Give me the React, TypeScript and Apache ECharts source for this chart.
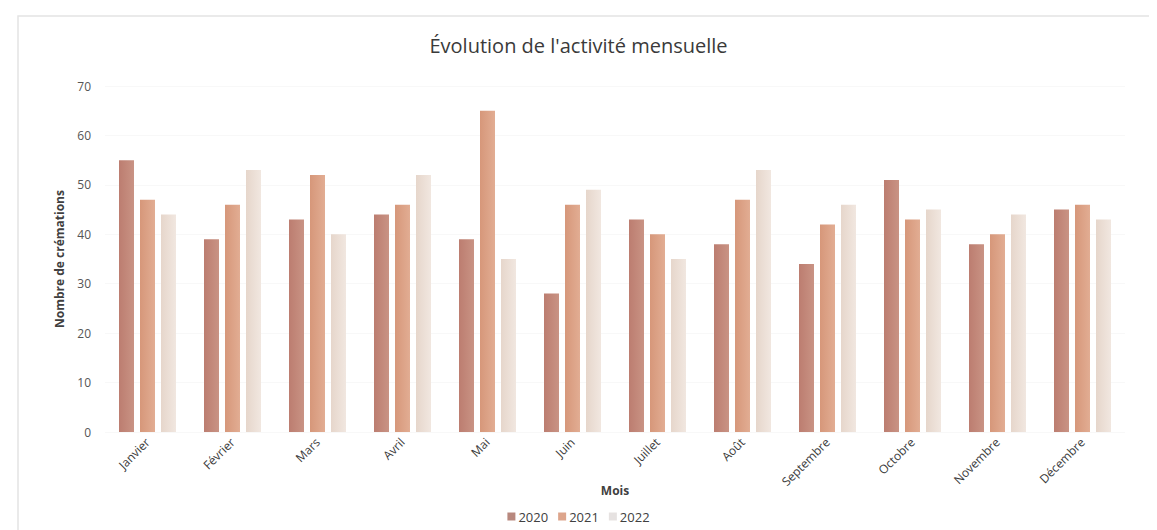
import React, { useEffect, useRef } from "react";
import * as echarts from "echarts";

const months = ["Janvier", "Février", "Mars", "Avril", "Mai", "Juin", "Juillet", "Août", "Septembre", "Octobre", "Novembre", "Décembre"];
const years = ["2020", "2021", "2022"];
const values2020 = [55, 39, 43, 44, 39, 28, 43, 38, 34, 51, 38, 45];
const values2021 = [47, 46, 52, 46, 65, 46, 40, 47, 42, 43, 40, 46];
const values2022 = [44, 53, 40, 52, 35, 49, 35, 53, 46, 45, 44, 43];
const yTicks = [0, 10, 20, 30, 40, 50, 60, 70];

const FONT = "'Open Sans', 'DejaVu Sans', sans-serif";

const grad = (a: string, b: string) =>
  new echarts.graphic.LinearGradient(0, 0, 1, 0, [
    { offset: 0, color: a },
    { offset: 1, color: b },
  ]);

export default function App() {
  const ref = useRef<HTMLDivElement>(null);
  useEffect(() => {
    if (!ref.current) return;
    const chart = echarts.init(ref.current, undefined, { renderer: "svg" });
    const colors = [
      ["#BC7D70", "#C99384"],
      ["#D6977A", "#E2AD93"],
      ["#E6D6CB", "#F1E7E0"],
    ];
    const legendColors = ["#B8887E", "#DDA58C", "#E6E2E1"];
    const data = [values2020, values2021, values2022];
    chart.setOption({
      animation: false,
      backgroundColor: "#ffffff",
      title: {
        text: "Évolution de l'activité mensuelle",
        left: "center",
        top: 30,
        textStyle: { fontFamily: FONT, fontSize: 20, fontWeight: "normal", color: "#3a3a3a" },
      },
      graphic: [
        {
          type: "rect",
          shape: { x: 10, y: 16, width: 1160, height: 530 },
          style: { fill: "none", stroke: "#e4e4e4", lineWidth: 1.5 },
          silent: true,
        },
      ],
      legend: {
        data: years.map((y, i) => ({ name: y, itemStyle: { color: legendColors[i] } })),
        bottom: 2,
        left: "center",
        icon: "rect",
        itemWidth: 8,
        itemHeight: 8,
        itemGap: 10,
        textStyle: { fontFamily: FONT, fontSize: 13, color: "#404040", padding: [0, 0, 0, -2] },
      },
      grid: { left: 97, right: 24, top: 86, bottom: 98, containLabel: false },
      xAxis: {
        type: "category",
        data: months,
        name: "Mois",
        nameLocation: "middle",
        nameGap: 52,
        nameMoveOverlap: false,
        nameTextStyle: { fontFamily: FONT, fontSize: 12, fontWeight: "bold", color: "#404040" },
        axisLine: { show: false },
        axisTick: { show: false },
        axisLabel: {
          rotate: 45,
          margin: 8,
          fontFamily: FONT,
          fontSize: 12,
          color: "#3a3a3a",
          interval: 0,
        },
      },
      yAxis: {
        type: "value",
        min: yTicks[0],
        max: yTicks[yTicks.length - 1],
        interval: 10,
        name: "Nombre de crémations",
        nameLocation: "middle",
        nameGap: 40,
        nameMoveOverlap: false,
        nameTextStyle: { fontFamily: FONT, fontSize: 12, fontWeight: "bold", color: "#404040" },
        axisLine: { show: false },
        axisTick: { show: false },
        splitLine: { show: true, lineStyle: { color: "#f8f8f8", width: 1 } },
        axisLabel: { fontFamily: FONT, fontSize: 12, color: "#555555", margin: 14 },
      },
      series: years.map((y, i) => ({
        name: y,
        type: "bar",
        data: data[i],
        barWidth: 15,
        barGap: "40%",
        itemStyle: { color: grad(colors[i][0], colors[i][1]) },
      })),
    });
    return () => chart.dispose();
  }, []);
  return <div ref={ref} style={{ width: 1141, height: 530, marginTop: -8 }} />;
}
